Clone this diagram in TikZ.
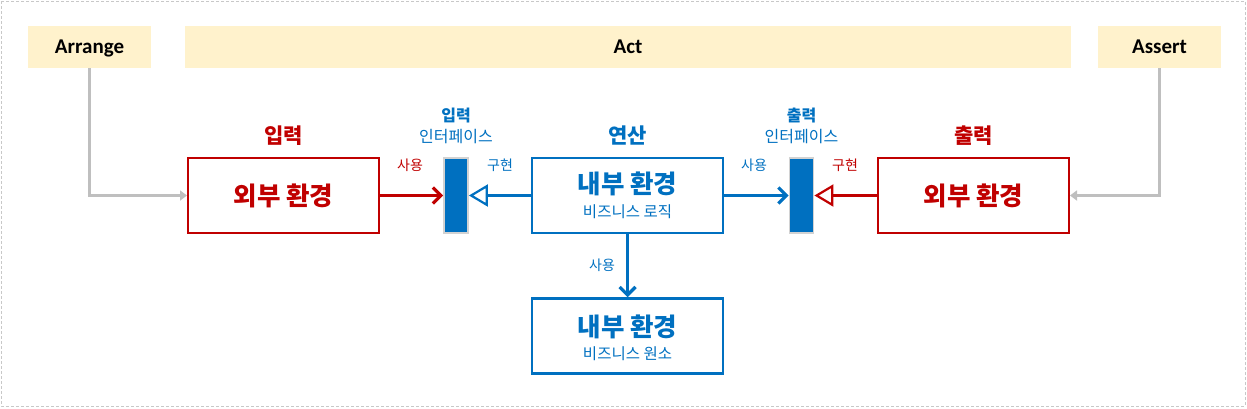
\documentclass[tikz,border=0pt]{standalone}
\usepackage{fontspec}
\setmainfont{Carlito}
\newfontfamily\kr{Noto Sans CJK KR}
\usetikzlibrary{arrows.meta,positioning,calc}
\definecolor{Ext}{RGB}{192,0,0}
\definecolor{Int}{RGB}{0,112,192}
\definecolor{Phase}{RGB}{255,242,204}
\definecolor{Wire}{RGB}{191,191,191}
\definecolor{Port}{RGB}{210,210,210}
\definecolor{Frame}{RGB}{200,200,200}
\tikzset{
  phase/.style={fill=Phase,minimum height=42pt,inner sep=0pt,text height=13.6pt,text depth=0pt,font=\fontsize{21}{25}\selectfont\bfseries},
  env/.style={draw,line width=2pt,minimum width=191pt,minimum height=75pt,inner sep=0pt},
  extbox/.style={env,draw=Ext},
  intbox/.style={env,draw=Int,line width=2.5pt},
  port/.style={draw=Port,fill=Int,line width=1.8pt,minimum width=24pt,minimum height=75pt,inner sep=0pt},
  big/.style={font=\kr\fontsize{25.5}{30}\selectfont\bfseries,inner sep=0pt},
  sub/.style={font=\kr\fontsize{15.5}{18}\selectfont,text=Int,inner sep=0pt},
  head/.style={font=\kr\fontsize{21}{25}\selectfont\bfseries,inner sep=0pt},
  plab/.style={font=\kr\fontsize{16}{19}\selectfont,text=Int,inner sep=0pt},
  elab/.style={font=\kr\fontsize{14}{17}\selectfont,inner sep=0pt},
  uses/.style={-{Straight Barb[length=8pt,width=16pt]},line width=3.2pt},
  impl/.style={-{Triangle[open,length=19pt,width=22pt,line width=2.2pt]},line width=3.2pt},
  feed/.style={-{Triangle[length=7pt,width=10pt]},line width=2.5pt,draw=Wire}
}
\begin{document}
\begin{tikzpicture}[x=1pt,y=-1pt]
\useasboundingbox (0,0) rectangle (1247,408);
\draw[Frame,line width=0.8pt,dash pattern=on 3pt off 2pt] (1,1) rectangle (1245,406);
\node[phase,minimum width=123pt] (arrange) at (89.5,47) {Arrange};
\node[phase,minimum width=886pt] (act) at (628,47) {Act};
\node[phase,minimum width=123pt] (assert) at (1159.5,47) {Assert};
\node[extbox] (inEnv) at (283.5,195.5) {};
\node[big,text=Ext] (inEnvT) at (inEnv) {외부 환경};
\node[head,text=Ext,above=11pt of inEnv] (inHead) {입력};
\node[port] (inPort) at (456,195.5) {};
\node[plab,font=\kr\fontsize{16}{19}\selectfont\bfseries] (inPortH) at (456,116) {입력};
\node[plab] (inPortL) at (456,137) {인터페이스};
\node[intbox] (logic) at (627.5,195.5) {};
\node[big,text=Int] (logicT) at ([yshift=11.5pt]logic.center) {내부 환경};
\node[sub] (logicS) at ([yshift=-16.5pt]logic.center) {비즈니스 로직};
\node[head,text=Int,above=11pt of logic] (logicHead) {연산};
\node[port] (outPort) at (801.5,195.5) {};
\node[plab,font=\kr\fontsize{16}{19}\selectfont\bfseries] (outPortH) at (801.5,116) {출력};
\node[plab] (outPortL) at (801.5,137) {인터페이스};
\node[extbox] (outEnv) at (973.5,195.5) {};
\node[big,text=Ext] (outEnvT) at (outEnv) {외부 환경};
\node[head,text=Ext,above=11pt of outEnv] (outHead) {출력};
\node[intbox] (domain) at (627.5,336) {};
\node[big,text=Int] (domainT) at ([yshift=9pt]domain.center) {내부 환경};
\node[sub] (domainS) at ([yshift=-18pt]domain.center) {비즈니스 원소};
\node[elab,text=Ext] (inUse) at (410,165) {사용};
\node[elab,text=Int] (inImpl) at (500,165) {구현};
\node[elab,text=Int] (outUse) at (754,165) {사용};
\node[elab,text=Ext] (outImpl) at (845,165) {구현};
\node[elab,text=Int] (domainUse) at (602,265) {사용};
\draw[uses,draw=Ext] (inEnv) -- (inPort);
\draw[impl,draw=Int] (logic) -- (inPort);
\draw[uses,draw=Int] (logic) -- (outPort);
\draw[impl,draw=Ext] (outEnv) -- (outPort);
\draw[uses,draw=Int] (logic) -- (domain);
\draw[feed] (arrange) |- (inEnv);
\draw[feed] (assert) |- (outEnv);
\end{tikzpicture}
\end{document}
